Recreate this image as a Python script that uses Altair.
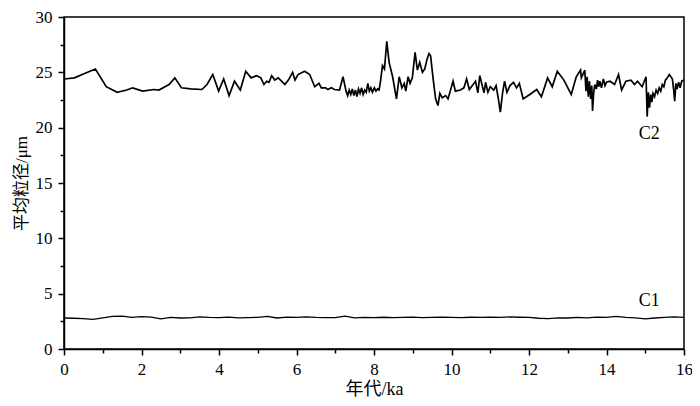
import altair as alt
import pandas as pd

# ---- data (C2 in age segments) ----
c2_age_a = [0.00, 0.27, 0.53, 0.81, 1.09, 1.37, 1.62, 1.77, 2.03, 2.32, 2.45, 2.71, 2.86, 3.03, 3.27,
            3.56, 3.69, 3.84, 3.99, 4.12, 4.26, 4.40, 4.55, 4.69, 4.83, 4.97, 5.08, 5.16, 5.23, 5.29,
            5.36, 5.44, 5.53, 5.70, 5.79, 5.90, 5.96, 6.04, 6.21, 6.34, 6.47, 6.58, 6.64, 6.75, 6.81,
            6.90, 6.98, 7.11, 7.20]
c2_size_a = [24.4, 24.5, 24.9, 25.3, 23.7, 23.2, 23.4, 23.6, 23.3, 23.45, 23.4, 23.9, 24.5, 23.6, 23.5,
             23.45, 23.9, 24.8, 23.3, 24.4, 22.9, 24.2, 23.4, 25.1, 24.5, 24.7, 24.5, 23.9, 24.2, 24.1,
             24.7, 24.3, 24.5, 23.9, 24.3, 25.0, 24.3, 24.8, 25.1, 24.8, 23.7, 24.0, 23.6, 23.6, 23.45,
             23.6, 23.45, 23.4, 24.6]

c2_age_b = [7.28, 7.32, 7.36, 7.40, 7.44, 7.48, 7.52, 7.56, 7.60, 7.64, 7.68, 7.72, 7.76, 7.80, 7.84,
            7.88, 7.92, 7.96, 8.01, 8.05, 8.09, 8.13, 8.16]
c2_size_b = [23.3, 22.9, 23.4, 23.0, 23.5, 22.9, 23.4, 22.8, 23.5, 23.1, 23.6, 23.0, 23.4, 23.2, 24.0,
             23.3, 23.6, 23.2, 23.6, 23.3, 23.5, 23.4, 24.0]

c2_age_c = [8.22, 8.27, 8.33, 8.39, 8.48, 8.58, 8.65, 8.72, 8.78, 8.82, 8.88, 8.93, 8.99, 9.06, 9.12,
            9.18, 9.25, 9.31, 9.37, 9.42, 9.46, 9.53, 9.59, 9.65, 9.70, 9.76, 9.85, 9.91, 10.04, 10.10,
            10.23, 10.32, 10.39, 10.46, 10.62, 10.68, 10.73, 10.80, 10.84, 10.88, 10.94, 11.00, 11.09,
            11.15, 11.21, 11.26, 11.32, 11.37, 11.43, 11.51, 11.60, 11.68, 11.75, 11.85, 12.02, 12.20,
            12.32, 12.48, 12.60, 12.73, 12.90, 13.09, 13.22, 13.33, 13.35]
c2_size_c = [25.6, 25.3, 27.8, 25.9, 24.6, 22.6, 24.6, 23.6, 24.0, 23.3, 24.6, 24.0, 24.5, 26.8, 25.2,
             25.9, 25.0, 25.3, 26.2, 26.7, 26.5, 24.3, 22.6, 22.0, 23.1, 22.7, 22.9, 22.6, 24.2, 23.3,
             23.4, 23.6, 24.4, 23.45, 24.2, 23.15, 24.7, 23.7, 23.15, 24.1, 23.2, 23.7, 23.4,
             23.8, 22.6, 21.4, 23.2, 24.2, 23.2, 23.8, 24.1, 23.6, 24.0, 22.6, 23.0, 23.45,
             22.8, 24.5, 23.7, 25.1, 24.3, 23.0, 24.6, 25.2, 24.5]

c2_age_d = [13.44, 13.47, 13.50, 13.53, 13.56, 13.59, 13.62, 13.64, 13.67, 13.70, 13.74, 13.77, 13.80,
            13.83, 13.87, 13.92, 13.96, 14.00, 14.09, 14.21, 14.31, 14.39, 14.50, 14.63, 14.72, 14.80,
            14.92]
c2_size_d = [25.2, 23.3, 24.6, 22.8, 24.2, 22.6, 23.8, 21.5, 23.2, 23.9, 23.5, 24.3, 23.7,
             24.2, 23.6, 24.4, 23.8, 24.1, 24.2, 23.9, 24.8, 23.4, 24.2, 24.3, 23.9, 24.2,
             23.7]

c2_age_e = [15.02, 15.05, 15.08, 15.11, 15.14, 15.17, 15.20, 15.24, 15.28, 15.32, 15.36, 15.40, 15.44,
            15.48, 15.52, 15.57, 15.62, 15.66, 15.70, 15.73, 15.76, 15.79, 15.82, 15.86, 15.90, 15.94,
            16.00]
c2_size_e = [24.6, 21.0, 23.2, 21.8, 23.0, 22.3, 23.1, 22.8, 23.4, 23.1, 23.6, 23.3, 23.9,
             23.7, 24.3, 24.5, 24.8, 24.6, 24.4, 23.5, 22.4, 24.0, 23.5, 24.1, 23.6, 24.2,
             24.3]

c1_age = [i * 0.25 for i in range(65)]
c1_size = [2.80, 2.78, 2.75, 2.68, 2.82, 2.95, 2.97, 2.85, 2.92, 2.88, 2.72, 2.85, 2.80, 2.82, 2.90,
           2.85, 2.84, 2.88, 2.82, 2.84, 2.86, 2.95, 2.80, 2.88, 2.85, 2.90, 2.86, 2.84, 2.83, 2.97,
           2.82, 2.85, 2.84, 2.87, 2.83, 2.85, 2.88, 2.84, 2.86, 2.87, 2.86, 2.84, 2.87, 2.85, 2.88,
           2.86, 2.90, 2.87, 2.85, 2.78, 2.75, 2.82, 2.80, 2.86, 2.82, 2.88, 2.85, 2.95, 2.86, 2.82,
           2.72, 2.80, 2.85, 2.90, 2.85]

label_text = ["C2", "C1"]
label_age = [15.1, 15.1]
label_size = [19.4, 4.3]

x_major = [0, 2, 4, 6, 8, 10, 12, 14, 16]
x_minor = [1, 3, 5, 7, 9, 11, 13, 15]
y_major = [0, 5, 10, 15, 20, 25, 30]
y_minor = [2.5, 7.5, 12.5, 17.5, 22.5, 27.5]

FONT = "Liberation Serif, Noto Sans CJK SC"

c2 = pd.DataFrame({
    "age": c2_age_a + c2_age_b + c2_age_c + c2_age_d + c2_age_e,
    "size": c2_size_a + c2_size_b + c2_size_c + c2_size_d + c2_size_e,
})
c1 = pd.DataFrame({"age": c1_age, "size": c1_size})
lab = pd.DataFrame({"age": label_age, "size": label_size, "text": label_text})

xs = alt.Scale(domain=[0, 16], nice=False, zero=False)
ys = alt.Scale(domain=[0, 30], nice=False, zero=False)

major_x = alt.Axis(values=x_major, title="年代/ka", tickSize=6, labelPadding=6,
                   labelFontSize=17, titleFontSize=18, titlePadding=3,
                   labelFont=FONT, titleFont=FONT, grid=False, labelFlush=False)
major_y = alt.Axis(values=y_major, title="平均粒径/μm", tickSize=6, labelPadding=6,
                   labelFontSize=17, titleFontSize=17, titlePadding=5,
                   labelFont=FONT, titleFont=FONT, grid=False, labelFlush=False)
minor_x = alt.Axis(values=x_minor, title="", tickSize=4, labels=False, domain=False,
                   grid=False, orient="bottom")
minor_y = alt.Axis(values=y_minor, title="", tickSize=4, labels=False, domain=False,
                   grid=False, orient="left")

line_c2 = alt.Chart(c2).mark_line(color="black", strokeWidth=1.7).encode(
    x=alt.X("age:Q", scale=xs, axis=major_x),
    y=alt.Y("size:Q", scale=ys, axis=major_y),
    order="age:Q",
)

line_c1 = alt.Chart(c1).mark_line(color="black", strokeWidth=1.3).encode(
    x=alt.X("age:Q", scale=xs, axis=None),
    y=alt.Y("size:Q", scale=ys, axis=None),
)

labels = alt.Chart(lab).mark_text(font=FONT, fontSize=18, color="black").encode(
    x=alt.X("age:Q", scale=xs, axis=minor_x),
    y=alt.Y("size:Q", scale=ys, axis=minor_y),
    text="text:N",
)

chart = alt.layer(line_c2, line_c1, labels).resolve_axis(
    x="independent", y="independent"
).properties(
    width=620, height=332,
    autosize=alt.AutoSizeParams(type="none"),
    padding={"left": 56, "top": 9, "right": 8, "bottom": 49},
).configure_view(
    stroke="black", strokeWidth=1.5
).configure_axis(
    domainColor="black", domainWidth=1.5, tickColor="black", tickWidth=1.5,
    labelColor="black", titleColor="black", titleFontWeight="normal"
)

chart.save("out.html", embed_options={"renderer": "svg", "actions": False})
